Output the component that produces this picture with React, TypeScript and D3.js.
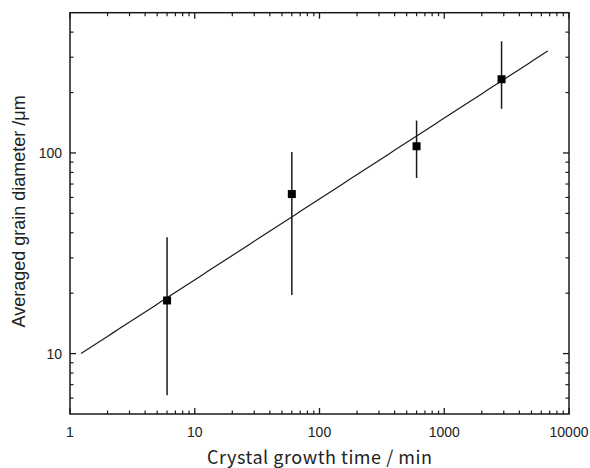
import React from "react";
import * as d3 from "d3";

// Data
const growthTime = [6, 60, 600, 2880]; // min
const grainDiameter = [18.4, 62.4, 108, 233]; // μm
const errLow = [6.2, 19.6, 75, 166];
const errHigh = [38, 101, 145, 360];

// Power-law fit: d = a * t^b
const fitA = 9.22;
const fitB = 0.403;
const fitRange = [1.225, 6750];

const xMajorTicks = [1, 10, 100, 1000, 10000];
const xTickLabels = ["1", "10", "100", "1000", "10000"];
const yMajorTicks = [10, 100];
const yTickLabels = ["10", "100"];

const W = 590;
const H = 468;
const left = 70;
const right = 569;
const top = 12.7;
const bottom = 414;

export default function App() {
  const x = d3.scaleLog().domain([1, 10000]).range([left, right]);
  const y = d3.scaleLog().domain([5, 500]).range([bottom, top]);

  const xMinor: number[] = [];
  for (let e = 0; e < 4; e++) for (let k = 2; k <= 9; k++) xMinor.push(k * Math.pow(10, e));
  const yMinor: number[] = [6, 7, 8, 9, 20, 30, 40, 50, 60, 70, 80, 90, 200, 300, 400];

  const fitPts = d3.range(0, 101).map((i) => {
    const lt = Math.log10(fitRange[0]) + (i / 100) * (Math.log10(fitRange[1]) - Math.log10(fitRange[0]));
    const t = Math.pow(10, lt);
    return [t, fitA * Math.pow(t, fitB)] as [number, number];
  });
  const line = d3
    .line<[number, number]>()
    .x((d) => x(d[0]))
    .y((d) => y(d[1]));

  const stroke = "#1a1a1a";
  const major = 6;
  const minor = 3.5;
  const tickFont = "'Liberation Sans', Arial, sans-serif";

  return (
    <svg width={W} height={H} style={{ position: "absolute", left: 0, top: 0, background: "#fff" }}>
      {/* ticks x */}
      {xMajorTicks.map((t) => (
        <g key={"xm" + t} stroke={stroke} strokeWidth={1.3}>
          <line x1={x(t)} x2={x(t)} y1={bottom} y2={bottom - major} />
          <line x1={x(t)} x2={x(t)} y1={top} y2={top + major} />
        </g>
      ))}
      {xMinor.map((t) => (
        <g key={"xn" + t} stroke={stroke} strokeWidth={1.2}>
          <line x1={x(t)} x2={x(t)} y1={bottom} y2={bottom - minor} />
          <line x1={x(t)} x2={x(t)} y1={top} y2={top + minor} />
        </g>
      ))}
      {/* ticks y */}
      {yMajorTicks.map((t) => (
        <g key={"ym" + t} stroke={stroke} strokeWidth={1.3}>
          <line x1={left} x2={left + major} y1={y(t)} y2={y(t)} />
          <line x1={right} x2={right - major} y1={y(t)} y2={y(t)} />
        </g>
      ))}
      {yMinor.map((t) => (
        <g key={"yn" + t} stroke={stroke} strokeWidth={1.2}>
          <line x1={left} x2={left + minor} y1={y(t)} y2={y(t)} />
          <line x1={right} x2={right - minor} y1={y(t)} y2={y(t)} />
        </g>
      ))}
      {/* frame */}
      <rect x={left} y={top} width={right - left} height={bottom - top} fill="none" stroke={stroke} strokeWidth={1.5} />

      {/* tick labels */}
      {xMajorTicks.map((t, i) => (
        <text key={"xl" + t} x={x(t)} y={437} textAnchor="middle" fontFamily={tickFont} fontSize={14} fill="#222">
          {xTickLabels[i]}
        </text>
      ))}
      {yMajorTicks.map((t, i) => (
        <text key={"yl" + t} x={62} y={y(t)} dy="0.36em" textAnchor="end" fontFamily={tickFont} fontSize={14} fill="#222">
          {yTickLabels[i]}
        </text>
      ))}

      {/* fit line */}
      <path d={line(fitPts) || ""} fill="none" stroke={stroke} strokeWidth={1.2} />

      {/* error bars and markers */}
      {growthTime.map((t, i) => (
        <g key={"p" + i}>
          <line x1={x(t)} x2={x(t)} y1={y(errLow[i])} y2={y(errHigh[i])} stroke={stroke} strokeWidth={1.5} />
          <rect x={x(t) - 4} y={y(grainDiameter[i]) - 4} width={8} height={8} fill="#000" />
        </g>
      ))}

      {/* axis titles */}
      <text
        x={(left + right) / 2}
        y={464}
        textAnchor="middle"
        fontFamily="'Noto Sans CJK JP', sans-serif"
        fontSize={18}
        textLength={225}
        lengthAdjust="spacing"
        fill="#222"
      >
        Crystal growth time / min
      </text>
      <text
        transform={`translate(25, ${(top + bottom) / 2 - 2}) rotate(-90)`}
        textAnchor="middle"
        fontFamily={tickFont}
        fontSize={18}
        fill="#222"
      >
        Averaged grain diameter /μm
      </text>
    </svg>
  );
}
